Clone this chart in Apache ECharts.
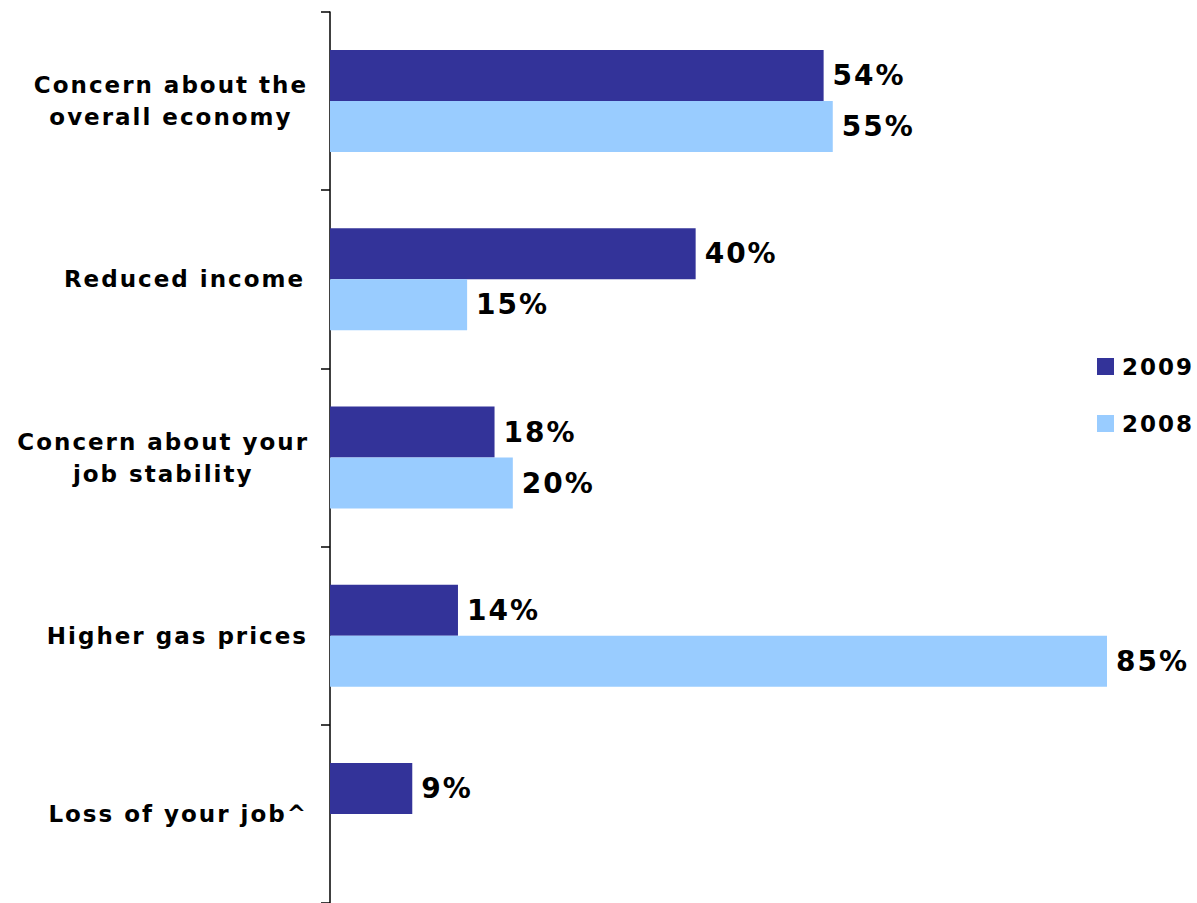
<!DOCTYPE html>
<html>
<head>
<meta charset="utf-8">
<script src="https://cdn.jsdelivr.net/npm/echarts@6/dist/echarts.min.js"></script>
<style>
  html, body { margin: 0; padding: 0; background: #ffffff; overflow: hidden; }
  #chart { width: 1197px; height: 903px; }
  #chart text { letter-spacing: 2px; }
</style>
</head>
<body>
<div id="chart"></div>
<script>
// Reasons for cutting back on spending, share of respondents
const categories = [
  'Concern about the\noverall economy',
  'Reduced income',
  'Concern about your\njob stability',
  'Higher gas prices',
  'Loss of your job^'
];
const seriesNames = ['2009', '2008'];
const values2009 = [54, 40, 18, 14, 9];
const values2008 = [55, 15, 20, 85, null];

const FONT = '"DejaVu Sans", Verdana, sans-serif';
const chart = echarts.init(document.getElementById('chart'), null, { renderer: 'svg' });

const valueLabel = {
  show: true,
  position: 'right',
  distance: 9,
  formatter: '{c}%',
  color: '#000000',
  fontFamily: FONT,
  fontWeight: 'bold',
  fontSize: 28
};

chart.setOption({
  animation: false,
  backgroundColor: '#ffffff',
  grid: { left: 330, top: 12, width: 777, height: 894, containLabel: false },
  legend: {
    orient: 'vertical',
    left: 1097,
    top: 355,
    padding: 0,
    itemWidth: 17,
    itemHeight: 17,
    itemGap: 34,
    itemStyle: { borderWidth: 0 },
    textStyle: {
      color: '#000000',
      fontFamily: FONT,
      fontWeight: 'bold',
      fontSize: 23,
      lineHeight: 17,
      padding: [0, 0, 0, 3]
    },
    data: seriesNames.map(n => ({ name: n, icon: 'rect' }))
  },
  xAxis: {
    type: 'value',
    min: 0,
    max: 85,
    show: false,
    splitLine: { show: false }
  },
  yAxis: {
    type: 'category',
    inverse: true,
    data: categories,
    axisLine: { show: true, lineStyle: { color: '#000000', width: 1.5 } },
    axisTick: { show: true, length: 9, lineStyle: { color: '#000000', width: 1.5 } },
    axisLabel: {
      margin: 39,
      align: 'right',
      formatter: v => v.split('\n').map(l => '{c|' + l + '}').join('\n'),
      rich: {
        c: {
          align: 'center',
          color: '#000000',
          fontFamily: FONT,
          fontWeight: 'bold',
          fontSize: 23,
          lineHeight: 32
        }
      }
    },
    splitLine: { show: false }
  },
  series: [
    {
      name: seriesNames[0],
      type: 'bar',
      data: values2009,
      barWidth: 51,
      barGap: '0%',
      itemStyle: { color: '#333399' },
      label: valueLabel
    },
    {
      name: seriesNames[1],
      type: 'bar',
      data: values2008,
      barWidth: 51,
      barGap: '0%',
      itemStyle: { color: '#99CCFF' },
      label: valueLabel
    }
  ]
});
</script>
</body>
</html>
